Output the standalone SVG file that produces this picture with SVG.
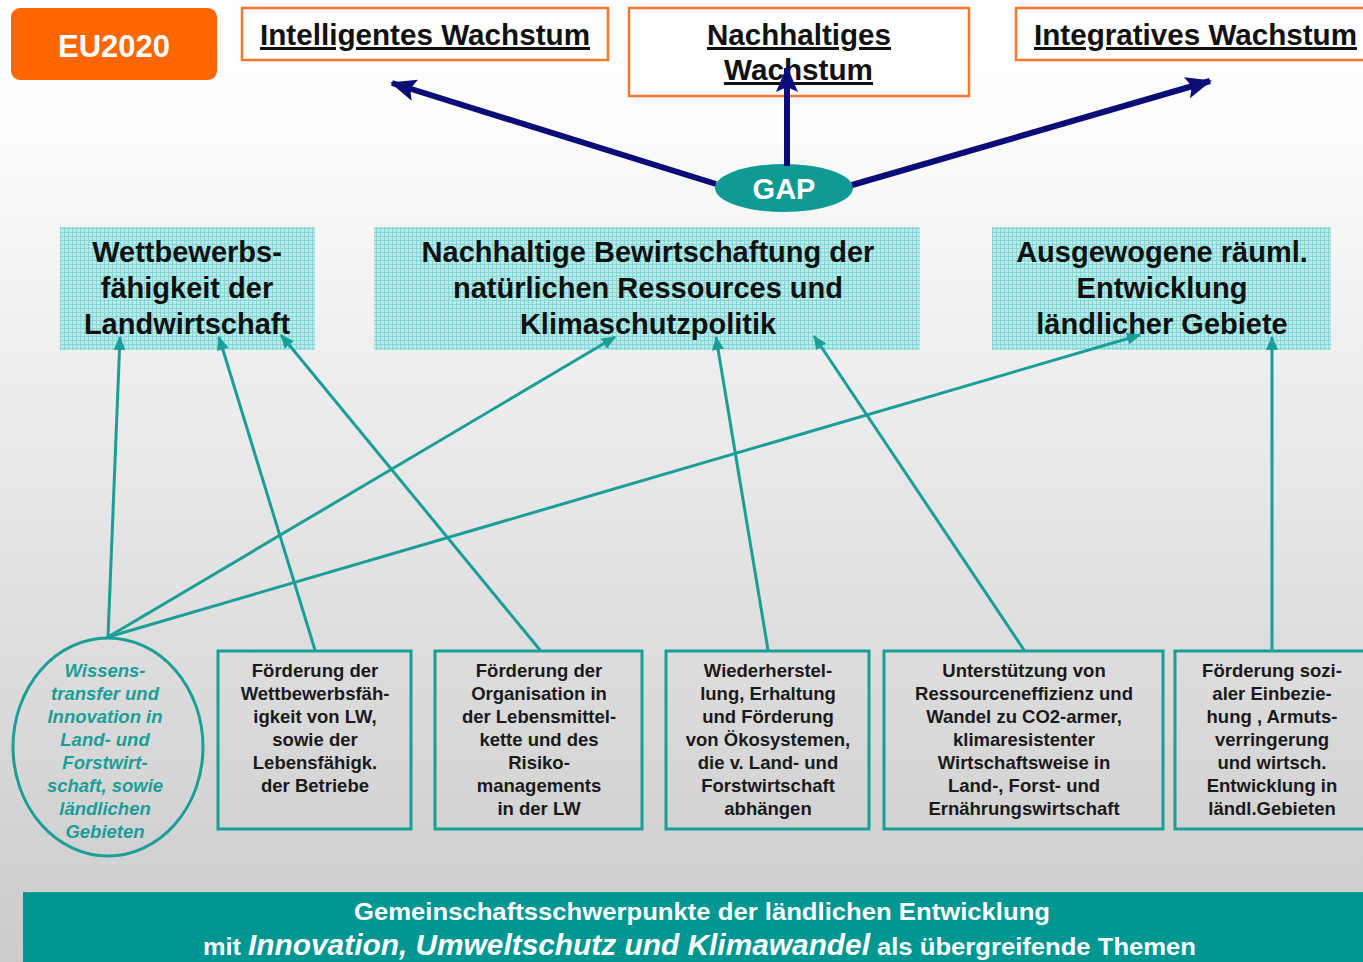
<svg xmlns="http://www.w3.org/2000/svg" width="1363" height="962" viewBox="0 0 1363 962">
<defs>
<linearGradient id="bg" x1="0" y1="0" x2="0" y2="1">
<stop offset="0" stop-color="#ffffff"/>
<stop offset="0.15" stop-color="#fbfbfb"/>
<stop offset="1" stop-color="#cbcbcb"/>
</linearGradient>
<pattern id="grid" width="4" height="4" patternUnits="userSpaceOnUse">
<rect width="4" height="4" fill="#b8ecec"/>
<path d="M0 0.5H4M0.5 0V4" stroke="#86d6d4" stroke-width="1"/>
</pattern>
<marker id="navy" markerWidth="26" markerHeight="22" refX="24" refY="11" orient="auto" markerUnits="userSpaceOnUse">
<path d="M0 0L26 11L0 22L5 11Z" fill="#0c0c78"/>
</marker>
<marker id="teal" markerWidth="14" markerHeight="12" refX="13" refY="6" orient="auto" markerUnits="userSpaceOnUse">
<path d="M0 0L14 6L0 12Z" fill="#1a9e98"/>
</marker>
</defs>
<style>
.ob{fill:#ffffff;stroke:#f07a2a;stroke-width:2.5}
.ot{font-family:"Liberation Sans",Arial,sans-serif;font-weight:bold;font-size:30px;fill:#111;text-decoration:underline}
.cb{fill:url(#grid)}
.ct{font-family:"Liberation Sans",Arial,sans-serif;font-weight:bold;font-size:29px;fill:#111;text-anchor:middle}
.bb{fill:none;stroke:#1a9e98;stroke-width:3}
.bt{font-family:"Liberation Sans",Arial,sans-serif;font-weight:bold;font-size:18.5px;fill:#1a1a1a;text-anchor:middle}
.it{font-family:"Liberation Sans",Arial,sans-serif;font-weight:bold;font-style:italic;font-size:18.5px;fill:#1a9e98;text-anchor:middle}
.nv{stroke:#0c0c78;stroke-width:6;fill:none}
.tl{stroke:#1a9e98;stroke-width:3;fill:none}
.wt{font-family:"Liberation Sans",Arial,sans-serif;font-weight:bold;fill:#ffffff}
</style>
<rect width="1363" height="962" fill="url(#bg)"/>

<g id="eu2020">
<rect x="11" y="8" width="206" height="72" rx="9" fill="#ff6600"/>
<text class="wt" x="114" y="57" font-size="31" text-anchor="middle">EU2020</text>
</g>

<g id="intelligentes">
<rect class="ob" x="242" y="8" width="366" height="52"/>
<text class="ot" x="260" y="45" textLength="330" lengthAdjust="spacingAndGlyphs">Intelligentes Wachstum</text>
</g>

<g id="nachhaltiges">
<rect class="ob" x="629" y="8" width="340" height="88"/>
<text class="ot" x="707" y="45" textLength="184" lengthAdjust="spacingAndGlyphs">Nachhaltiges</text>
<text class="ot" x="724" y="80" textLength="149" lengthAdjust="spacingAndGlyphs">Wachstum</text>
</g>

<g id="integratives">
<rect class="ob" x="1016" y="8" width="360" height="52"/>
<text class="ot" x="1034" y="45" textLength="323" lengthAdjust="spacingAndGlyphs">Integratives Wachstum</text>
</g>

<g id="gap">
<ellipse cx="784" cy="188" rx="69" ry="24" fill="#0f9a94"/>
<text class="wt" x="784" y="199" font-size="29" text-anchor="middle">GAP</text>
</g>

<g id="wettbewerb">
<rect class="cb" x="60" y="227" width="255" height="123"/>
<text class="ct" x="187" y="262">Wettbewerbs-</text>
<text class="ct" x="187" y="298">fähigkeit der</text>
<text class="ct" x="187" y="334">Landwirtschaft</text>
</g>

<g id="nachhaltige-bewirtschaftung">
<rect class="cb" x="374" y="227" width="546" height="123"/>
<text class="ct" x="648" y="262">Nachhaltige Bewirtschaftung der</text>
<text class="ct" x="648" y="298">natürlichen Ressources und</text>
<text class="ct" x="648" y="334">Klimaschutzpolitik</text>
</g>

<g id="ausgewogene">
<rect class="cb" x="992" y="227" width="339" height="123"/>
<text class="ct" x="1162" y="262">Ausgewogene räuml.</text>
<text class="ct" x="1162" y="298">Entwicklung</text>
<text class="ct" x="1162" y="334">ländlicher Gebiete</text>
</g>

<g id="wissenstransfer">
<ellipse cx="108" cy="747" rx="95" ry="109" fill="none" stroke="#1a9e98" stroke-width="3"/>
<text class="it" x="105" y="677">Wissens-</text>
<text class="it" x="105" y="700">transfer und</text>
<text class="it" x="105" y="723">Innovation in</text>
<text class="it" x="105" y="746">Land- und</text>
<text class="it" x="105" y="769">Forstwirt-</text>
<text class="it" x="105" y="792">schaft, sowie</text>
<text class="it" x="105" y="815">ländlichen</text>
<text class="it" x="105" y="838">Gebieten</text>
</g>

<g id="wettbewerbsfaehigkeit">
<rect class="bb" x="218" y="651" width="193" height="178"/>
<text class="bt" x="315" y="677">Förderung der</text>
<text class="bt" x="315" y="700">Wettbewerbsfäh-</text>
<text class="bt" x="315" y="723">igkeit von LW,</text>
<text class="bt" x="315" y="746">sowie der</text>
<text class="bt" x="315" y="769">Lebensfähigk.</text>
<text class="bt" x="315" y="792">der Betriebe</text>
</g>

<g id="organisation">
<rect class="bb" x="435" y="651" width="207" height="178"/>
<text class="bt" x="539" y="677">Förderung der</text>
<text class="bt" x="539" y="700">Organisation in</text>
<text class="bt" x="539" y="723">der Lebensmittel-</text>
<text class="bt" x="539" y="746">kette und des</text>
<text class="bt" x="539" y="769">Risiko-</text>
<text class="bt" x="539" y="792">managements</text>
<text class="bt" x="539" y="815">in der LW</text>
</g>

<g id="oekosysteme">
<rect class="bb" x="666" y="651" width="203" height="178"/>
<text class="bt" x="768" y="677">Wiederherstel-</text>
<text class="bt" x="768" y="700">lung, Erhaltung</text>
<text class="bt" x="768" y="723">und Förderung</text>
<text class="bt" x="768" y="746">von Ökosystemen,</text>
<text class="bt" x="768" y="769">die v. Land- und</text>
<text class="bt" x="768" y="792">Forstwirtschaft</text>
<text class="bt" x="768" y="815">abhängen</text>
</g>

<g id="ressourceneffizienz">
<rect class="bb" x="884" y="651" width="279" height="178"/>
<text class="bt" x="1024" y="677">Unterstützung von</text>
<text class="bt" x="1024" y="700">Ressourceneffizienz und</text>
<text class="bt" x="1024" y="723">Wandel zu CO2-armer,</text>
<text class="bt" x="1024" y="746">klimaresistenter</text>
<text class="bt" x="1024" y="769">Wirtschaftsweise in</text>
<text class="bt" x="1024" y="792">Land-, Forst- und</text>
<text class="bt" x="1024" y="815">Ernährungswirtschaft</text>
</g>

<g id="soziale-einbeziehung">
<rect class="bb" x="1175" y="651" width="200" height="178"/>
<text class="bt" x="1272" y="677">Förderung sozi-</text>
<text class="bt" x="1272" y="700">aler Einbezie-</text>
<text class="bt" x="1272" y="723">hung , Armuts-</text>
<text class="bt" x="1272" y="746">verringerung</text>
<text class="bt" x="1272" y="769">und wirtsch.</text>
<text class="bt" x="1272" y="792">Entwicklung in</text>
<text class="bt" x="1272" y="815">ländl.Gebieten</text>
</g>

<g id="banner">
<rect x="23" y="892" width="1345" height="75" fill="#009793"/>
<text class="wt" x="354" y="920" font-size="23" textLength="696" lengthAdjust="spacingAndGlyphs">Gemeinschaftsschwerpunkte der ländlichen Entwicklung</text>
<text class="wt" x="203" y="955" font-size="23" textLength="38" lengthAdjust="spacingAndGlyphs">mit</text>
<text class="wt" x="248" y="955" font-size="29" font-style="italic" textLength="622" lengthAdjust="spacingAndGlyphs">Innovation, Umweltschutz und Klimawandel</text>
<text class="wt" x="877" y="955" font-size="23" textLength="319" lengthAdjust="spacingAndGlyphs">als übergreifende Themen</text>
</g>

<g id="connectors">
<line class="nv" x1="716" y1="184" x2="392" y2="83" marker-end="url(#navy)"/>
<line class="nv" x1="787" y1="166" x2="787" y2="68" marker-end="url(#navy)"/>
<line class="nv" x1="852" y1="185" x2="1210" y2="81" marker-end="url(#navy)"/>
<line class="tl" x1="108" y1="637" x2="120" y2="337" marker-end="url(#teal)"/>
<line class="tl" x1="108" y1="637" x2="615" y2="337" marker-end="url(#teal)"/>
<line class="tl" x1="108" y1="637" x2="1140" y2="335" marker-end="url(#teal)"/>
<line class="tl" x1="315" y1="650" x2="219" y2="337" marker-end="url(#teal)"/>
<line class="tl" x1="540" y1="650" x2="281" y2="335" marker-end="url(#teal)"/>
<line class="tl" x1="768" y1="650" x2="716" y2="337" marker-end="url(#teal)"/>
<line class="tl" x1="1024" y1="650" x2="814" y2="336" marker-end="url(#teal)"/>
<line class="tl" x1="1272" y1="650" x2="1272" y2="337" marker-end="url(#teal)"/>
</g>
</svg>
